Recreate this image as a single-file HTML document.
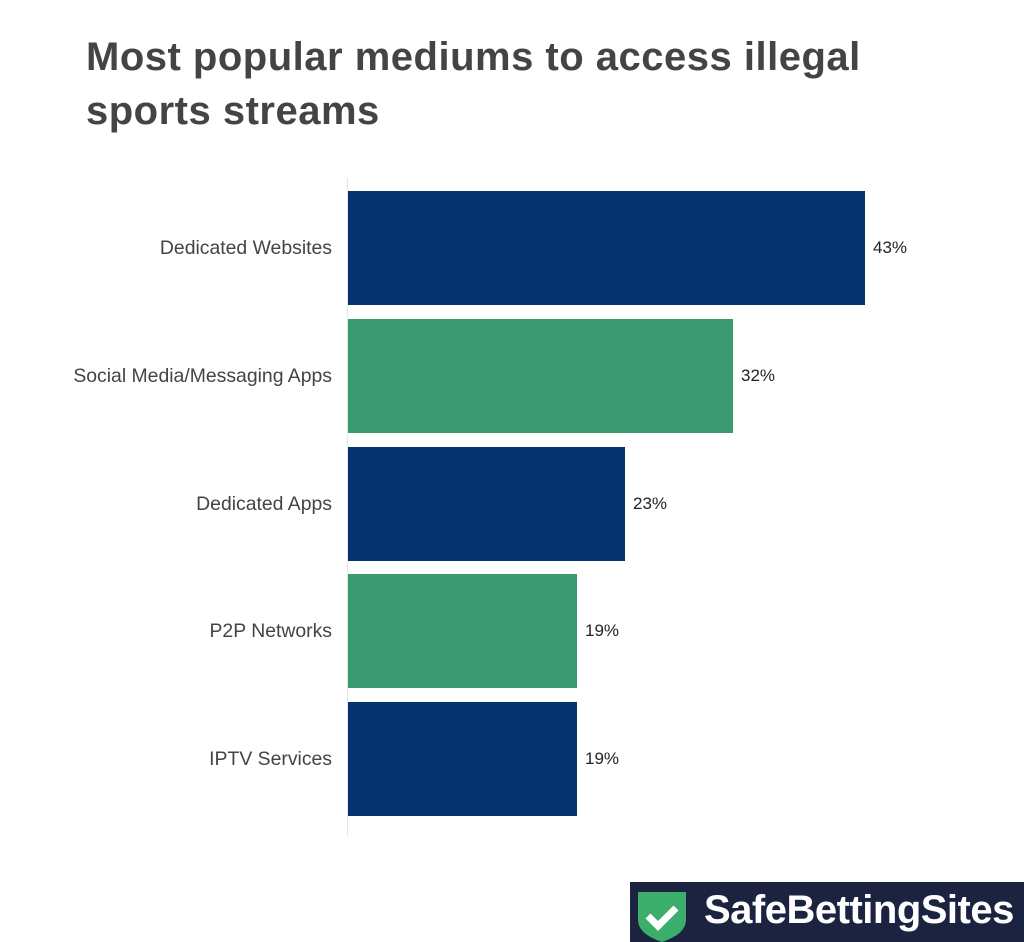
<!DOCTYPE html>
<html><head><style>
body{margin:0;width:1024px;height:942px;background:#fff;position:relative;overflow:hidden;font-family:"Liberation Sans",sans-serif}
.t{position:absolute;left:86px;top:30px;font-size:40px;font-weight:bold;color:#444;line-height:54px;letter-spacing:0.5px}
.bar{position:absolute;left:348px;height:114px}
.b{background:#06336e}.g{background:#3b9a72}
.lab{position:absolute;right:692px;font-size:19.4px;color:#444;text-align:right;white-space:nowrap}
.v{position:absolute;font-size:17px;color:#222}
</style></head><body>
<div class="t">Most popular mediums to access illegal<br>sports streams</div>
<div style="position:absolute;left:347px;top:178px;width:1px;height:658px;background:#e6e6e6"></div>
<div class="bar b" style="top:191px;width:517px"></div>
<div class="bar g" style="top:319px;width:385px"></div>
<div class="bar b" style="top:447px;width:277px"></div>
<div class="bar g" style="top:574px;width:229px"></div>
<div class="bar b" style="top:702px;width:229px"></div>
<div class="lab" style="top:237px">Dedicated Websites</div>
<div class="lab" style="top:365px">Social Media/Messaging Apps</div>
<div class="lab" style="top:493px">Dedicated Apps</div>
<div class="lab" style="top:620px">P2P Networks</div>
<div class="lab" style="top:748px">IPTV Services</div>
<div class="v" style="left:873px;top:238px">43%</div>
<div class="v" style="left:741px;top:366px">32%</div>
<div class="v" style="left:633px;top:494px">23%</div>
<div class="v" style="left:585px;top:621px">19%</div>
<div class="v" style="left:585px;top:749px">19%</div>
<div style="position:absolute;left:630px;top:882px;width:394px;height:60px;background:#1b2340">
<svg style="position:absolute;left:6px;top:8px" width="52" height="52" viewBox="0 0 52 52"><path d="M2 2H50V30Q50 44 26 52Q2 44 2 30Z" fill="#3aae6a"/><path d="M12 26L22 36L40 18" stroke="#fff" stroke-width="7" fill="none"/></svg>
<div style="position:absolute;left:74px;top:6px;font-size:40px;font-weight:bold;color:#fff;letter-spacing:-0.5px">SafeBettingSites</div>
</div>
</body></html>
